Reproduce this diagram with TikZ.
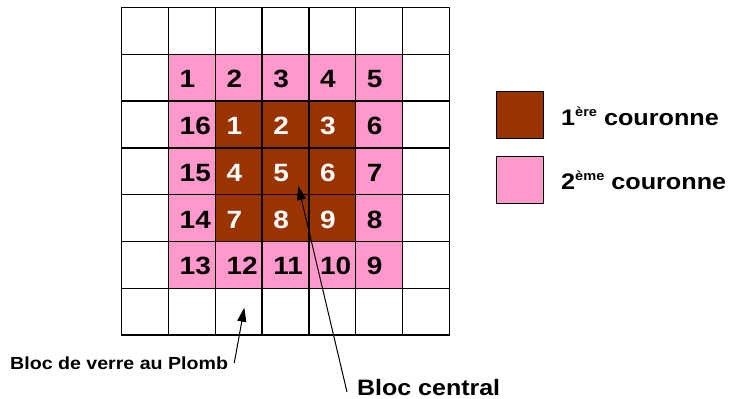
\documentclass[tikz,border=0pt]{standalone}
\usepackage{fontspec}
\setmainfont{Liberation Sans}[FakeStretch=1.12]
\usetikzlibrary{arrows.meta}

\definecolor{brique}{HTML}{993300}
\definecolor{rose}{HTML}{FF99CC}
\colorlet{ring0}{brique}
\colorlet{ring1}{brique}
\colorlet{ring2}{rose}
\colorlet{ring3}{white}

\newcommand{\expo}[1]{\raisebox{9pt}{\fontsize{13}{13}\selectfont #1}}

\tikzset{
    cell/.style = {draw, line width=1.3pt, minimum size=46.8pt, inner sep=0pt, outer sep=0pt, anchor=north west},
    num/.style = {anchor=base west, inner sep=0pt, xshift=11pt, yshift=-33.3pt, font=\fontsize{25}{25}\selectfont\bfseries},
}
\tikzset{
    key/.style = {draw, line width=1pt, minimum size=47pt, inner sep=0pt},
    legend/.style = {anchor=base west, inner sep=0pt, font=\fontsize{22.5}{22.5}\selectfont\bfseries},
    tagbig/.style = {anchor=base west, inner sep=0pt, font=\fontsize{22.3}{22.3}\selectfont\bfseries},
    tagsmall/.style = {anchor=base west, inner sep=0pt, font=\fontsize{17.5}{17.5}\selectfont\bfseries},
    pointer/.style = {line width=1pt, -{Triangle[length=14pt, width=9pt]}},
}

\begin{document}
\begin{tikzpicture}[x=1pt, y=-1pt]
        \useasboundingbox (0,0) rectangle (734,399);

        % the 7x7 blocks, coloured by ring
        \foreach \i in {0,...,6}
            \foreach \j in {0,...,6} {
                \pgfmathtruncatemacro{\ring}{max(abs(\i-3),abs(\j-3))}
                \node[cell, fill=ring\ring] (c\i\j) at ({121.7+46.8*\i}, {7.5+46.8*\j}) {};
            }

        % 2nd ring numbers
        \foreach \n/\cel in {1/11, 2/21, 3/31, 4/41, 5/51, 6/52, 7/53, 8/54, 9/55,
                             10/45, 11/35, 12/25, 13/15, 14/14, 15/13, 16/12}
            \node[num] (p\n) at (c\cel.north west) {\n};

        % 1st ring numbers
        \foreach \n/\cel in {1/22, 2/32, 3/42, 4/23, 5/33, 6/43, 7/24, 8/34, 9/44}
            \node[num, text=white] (b\n) at (c\cel.north west) {\n};

        % legend
        \node[key, fill=brique] (key1) at (519.7, 114.7) {};
        \node[key, fill=rose] (key2) at (519.7, 180) {};
        \node[legend] (leg1) at (561, 125) {1\expo{ère} couronne};
        \node[legend] (leg2) at (561, 189) {2\expo{ème} couronne};

        % pointers
        \node[tagbig] (central) at (357, 395) {Bloc central};
        \node[tagsmall] (verre) at (10, 369) {Bloc de verre au Plomb};
        \coordinate (tipcentral) at (298.3, 186);
        \coordinate (tipverre) at (244.3, 307.7);

        \draw[pointer] ([shift={(-10,-3)}]central.base west) -- (tipcentral);
        \draw[pointer] ([shift={(6,-6)}]verre.base east) -- (tipverre);
    \end{tikzpicture}
\end{document}
